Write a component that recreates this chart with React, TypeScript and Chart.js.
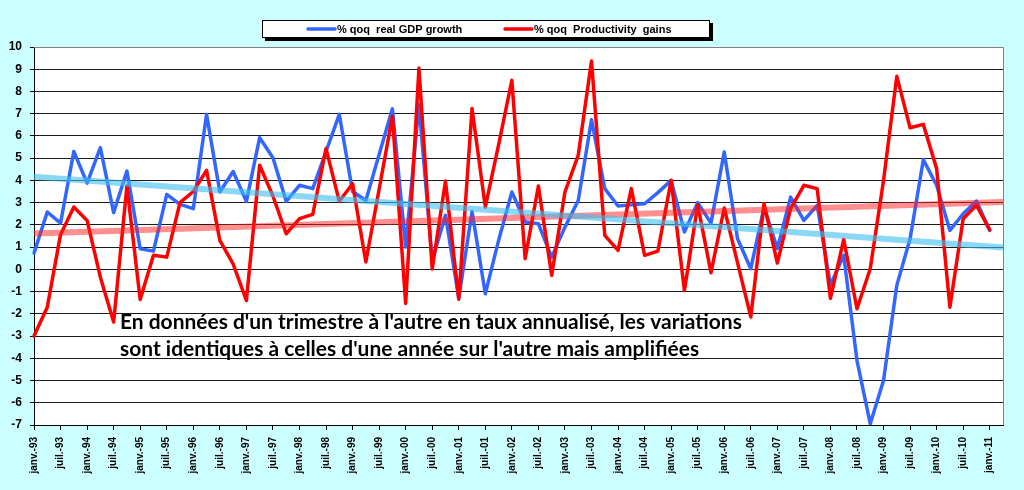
import { useEffect, useRef } from "react"
import { Chart, registerables } from "chart.js"
import type { Plugin } from "chart.js"

Chart.register(...registerables)

// Quarters from janv.-93 to avr.-11 (only janv./juil. are labelled)
const years = ["93", "94", "95", "96", "97", "98", "99", "00", "01", "02", "03", "04", "05", "06", "07", "08", "09", "10", "11"]
const months = ["janv.", "avr.", "juil.", "oct."]
const quarters = years.flatMap((y) => months.map((m) => `${m}-${y}`)).slice(0, 74)

// % qoq annualised
const gdpGrowth = [
  0.73, 2.58, 2.08, 5.3, 3.88, 5.47, 2.55, 4.42, 0.93, 0.82, 3.37, 2.92,
  2.73, 6.97, 3.48, 4.4, 3.06, 5.92, 5.02, 3.06, 3.78, 3.63, 5.3, 6.97,
  3.5, 3.1, 5.17, 7.22, 1.0, 7.4, 0.4, 2.43, -1.3, 2.6, -1.1, 1.3,
  3.48, 2.13, 2.05, 0.55, 1.9, 3.1, 6.73, 3.63, 2.85, 2.9, 2.95, 3.45,
  4.0, 1.68, 3.0, 2.08, 5.28, 1.38, 0.03, 2.8, 0.93, 3.25, 2.2, 2.88,
  -0.7, 0.63, -4.1, -6.94, -5.0, -0.72, 1.38, 4.93, 3.78, 1.75, 2.5, 3.07,
  1.75,
]

const productivityGains = [
  -3.0, -1.7, 1.56, 2.8, 2.2, -0.35, -2.37, 3.75, -1.36, 0.63, 0.55, 3.0,
  3.5, 4.45, 1.3, 0.25, -1.4, 4.68, 3.3, 1.6, 2.28, 2.47, 5.43, 3.06,
  3.85, 0.33, 3.6, 6.88, -1.53, 9.05, 0.02, 3.97, -1.34, 7.23, 2.8, 5.6,
  8.5, 0.48, 3.75, -0.27, 3.48, 5.13, 9.37, 1.53, 0.85, 3.63, 0.63, 0.82,
  4.0, -0.95, 2.9, -0.15, 2.76, 0.3, -2.14, 2.95, 0.28, 2.73, 3.78, 3.63,
  -1.3, 1.35, -1.77, 0.03, 4.0, 8.68, 6.37, 6.52, 4.53, -1.7, 2.28, 2.88,
  1.78,
]

// linear trends: value at first and last category
const gdpTrend = [4.16, 0.98]
const productivityTrend = [1.61, 3.03]

const legendItems = [
  { label: "% qoq  real GDP growth", color: "#3366FF" },
  { label: "% qoq  Productivity  gains", color: "#FF0000" },
]

const noteLines = [
  "En données d'un trimestre à l'autre en taux annualisé, les variations",
  "sont identiques à celles d'une année sur l'autre mais amplifiées",
]

const AXIS_FONT = "Arial, 'Liberation Sans', sans-serif"

const decorPlugin: Plugin<"line"> = {
  id: "decor",
  beforeDraw(chart) {
    const { ctx, chartArea: a } = chart
    ctx.save()
    ctx.fillStyle = "#ffffff"
    ctx.fillRect(a.left, a.top, a.right - a.left, a.bottom - a.top)
    ctx.restore()
  },
  beforeDatasetsDraw(chart) {
    const { ctx, chartArea: a } = chart
    ctx.save()
    ctx.strokeStyle = "#808080"
    ctx.lineWidth = 1
    ctx.beginPath()
    ctx.moveTo(a.left, a.top + 0.5)
    ctx.lineTo(a.right + 0.5, a.top + 0.5)
    ctx.lineTo(a.right + 0.5, a.bottom)
    ctx.stroke()
    ctx.restore()
  },
  afterDraw(chart) {
    const { ctx } = chart
    ctx.save()

    // legend box with shadow
    ctx.fillStyle = "#000"
    ctx.fillRect(265, 23, 448, 18)
    ctx.fillStyle = "#fff"
    ctx.fillRect(262, 20, 448, 18)
    ctx.strokeStyle = "#000"
    ctx.lineWidth = 1
    ctx.strokeRect(262.5, 20.5, 447, 17)

    ctx.font = `bold 11px ${AXIS_FONT}`
    ctx.textBaseline = "middle"
    const starts = [308, 505]
    legendItems.forEach((item, i) => {
      const x = starts[i]
      ctx.strokeStyle = item.color
      ctx.lineWidth = 3.5
      ctx.lineCap = "round"
      ctx.beginPath()
      ctx.moveTo(x, 29)
      ctx.lineTo(x + 27, 29)
      ctx.stroke()
      ctx.fillStyle = "#000"
      ctx.fillText(item.label, x + 29, 29.5)
    })

    // annotation
    ctx.font = "bold 20px Lato, 'Open Sans', sans-serif"
    const w = ctx.measureText(noteLines[0]).width
    const size = (20 * 622) / w
    ctx.font = `bold ${size.toFixed(2)}px Lato, 'Open Sans', sans-serif`
    ctx.textBaseline = "alphabetic"
    ctx.fillStyle = "#000"
    ctx.fillText(noteLines[0], 120, 329)
    ctx.fillText(noteLines[1], 120, 356)

    ctx.restore()
  },
}

export default function App() {
  const chartRef = useRef<HTMLCanvasElement>(null)
  const chartInstance = useRef<Chart | null>(null)

  useEffect(() => {
    document.body.style.margin = "0"
    if (!chartRef.current) return
    if (chartInstance.current) chartInstance.current.destroy()
    const ctx = chartRef.current.getContext("2d")
    if (!ctx) return

    const last = quarters.length - 1

    chartInstance.current = new Chart(ctx, {
      type: "line",
      data: {
        labels: quarters,
        datasets: [
          {
            label: "Trend GDP",
            data: [
              { x: quarters[0], y: gdpTrend[0] },
              { x: quarters[last], y: gdpTrend[1] },
            ] as any,
            borderColor: "rgba(60, 190, 240, 0.6)",
            borderWidth: 6,
            pointRadius: 0,
          },
          {
            label: "Trend productivity",
            data: [
              { x: quarters[0], y: productivityTrend[0] },
              { x: quarters[last], y: productivityTrend[1] },
            ] as any,
            borderColor: "rgba(255, 30, 30, 0.5)",
            borderWidth: 6,
            pointRadius: 0,
          },
          {
            label: legendItems[1].label,
            data: productivityGains,
            borderColor: legendItems[1].color,
            borderWidth: 3.5,
            pointRadius: 0,
            borderJoinStyle: "round",
            borderCapStyle: "round",
            tension: 0,
          },
          {
            label: legendItems[0].label,
            data: gdpGrowth,
            borderColor: legendItems[0].color,
            borderWidth: 3.5,
            pointRadius: 0,
            borderJoinStyle: "round",
            borderCapStyle: "round",
            tension: 0,
          },
        ],
      },
      options: {
        animation: false,
        responsive: true,
        maintainAspectRatio: false,
        layout: { padding: { top: 47, right: 21, left: 0, bottom: 0 } },
        plugins: {
          legend: { display: false },
          tooltip: { enabled: false },
        },
        scales: {
          x: {
            type: "category",
            offset: false,
            grid: {
              drawOnChartArea: false,
              drawTicks: true,
              tickLength: 5,
              tickColor: (c) => (c.index % 2 === 0 ? "#000" : "rgba(0,0,0,0)"),
            },
            border: { display: true, color: "#000" },
            ticks: {
              autoSkip: false,
              minRotation: 90,
              maxRotation: 90,
              padding: 7,
              color: "#000",
              font: { family: AXIS_FONT, size: 10, weight: "bold" },
              callback: (_v, i) => (i % 2 === 0 ? quarters[i] : ""),
            },
            afterFit: (s) => {
              s.height = 65
            },
          },
          y: {
            type: "linear",
            min: -7,
            max: 10,
            grid: {
              color: (c) => (c.tick && c.tick.value === 10 ? "#808080" : "#1a1a1a"),
              lineWidth: 1,
              tickLength: 4,
              tickColor: "#000",
            },
            border: { display: true, color: "#000" },
            ticks: {
              stepSize: 1,
              padding: 8,
              color: "#000",
              font: { family: AXIS_FONT, size: 12, weight: "bold" },
            },
            afterFit: (s) => {
              s.width = 34
            },
          },
        },
      },
      plugins: [decorPlugin],
    })

    return () => {
      if (chartInstance.current) {
        chartInstance.current.destroy()
        chartInstance.current = null
      }
    }
  }, [])

  return (
    <div style={{ width: 1024, height: 490, background: "#CCFFFF", position: "relative" }}>
      <canvas ref={chartRef} aria-label="GDP growth and productivity gains chart"></canvas>
    </div>
  )
}
